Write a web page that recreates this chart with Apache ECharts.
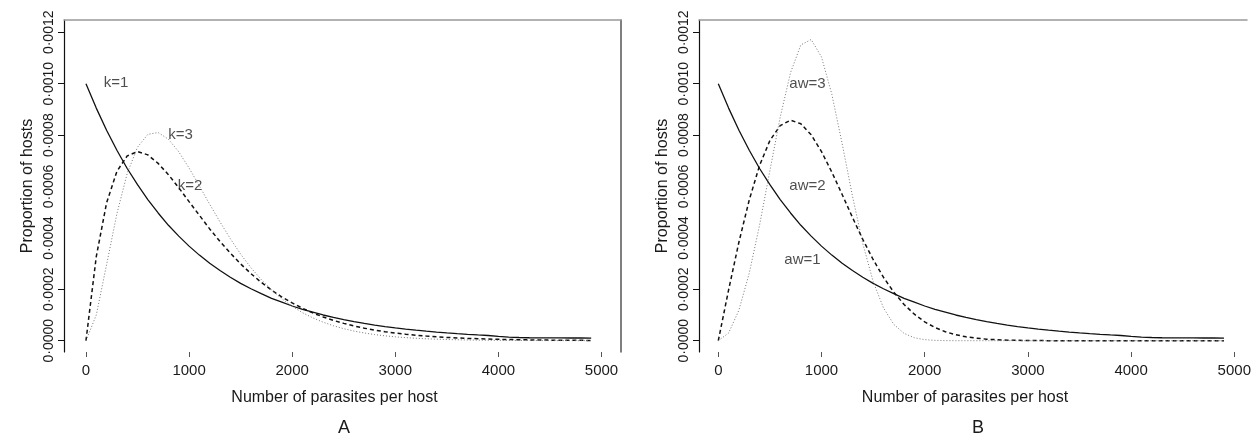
<!DOCTYPE html>
<html><head><meta charset="utf-8">
<script src="https://cdn.jsdelivr.net/npm/echarts@6/dist/echarts.min.js"></script>
<style>html,body{margin:0;padding:0;background:#fff}#c{width:1256px;height:436px}</style>
</head><body><div id="c"></div>
<script>
// ---- data ----
const parasites = [0,100,200,300,400,500,600,700,800,900,
  1000,1100,1200,1300,1400,1500,1600,1700,1800,1900,
  2000,2100,2200,2300,2400,2500,2600,2700,2800,2900,
  3000,3100,3200,3300,3400,3500,3600,3700,3800,3900,
  4000,4100,4200,4300,4400,4500,4600,4700,4800,4900];

const k1 = [0.001000,0.000905,0.000819,0.000741,0.000670,0.000607,0.000549,0.000497,0.000449,0.000407,
  0.000368,0.000333,0.000301,0.000273,0.000247,0.000223,0.000202,0.000183,0.000165,0.000150,
  0.000135,0.000122,0.000111,0.000100,0.0000907,0.0000821,0.0000743,0.0000672,0.0000608,0.0000550,
  0.0000498,0.0000450,0.0000408,0.0000369,0.0000334,0.0000302,0.0000273,0.0000247,0.0000224,0.0000202,
  0.0000170,0.0000140,0.0000125,0.0000115,0.0000110,0.0000108,0.0000106,0.0000105,0.0000104,0.0000103];

const k2 = [0,0.000327,0.000536,0.000659,0.000719,0.000736,0.000723,0.000690,0.000646,0.000595,
  0.000541,0.000488,0.000435,0.000386,0.000341,0.000299,0.000261,0.000227,0.000197,0.000170,
  0.000147,0.000126,0.000108,0.0000925,0.0000790,0.0000674,0.0000574,0.0000488,0.0000414,0.0000351,
  0.0000297,0.0000252,0.0000213,0.0000180,0.0000152,0.0000128,0.0000108,0.0000090,0.0000076,0.0000064,
  0.0000054,0.0000045,0.0000038,0.0000032,0.0000027,0.0000022,0.0000019,0.0000016,0.0000013,0.0000011];

const k3 = [0,0.000100,0.000296,0.000494,0.000651,0.000753,0.000803,0.000810,0.000784,0.000735,
  0.000672,0.000602,0.000531,0.000462,0.000397,0.000337,0.000284,0.000238,0.000198,0.000163,
  0.000134,0.000109,0.0000889,0.0000720,0.0000581,0.0000467,0.0000374,0.0000299,0.0000238,0.0000189,
  0.0000150,0.0000119,0.0000094,0.0000074,0.0000058,0.0000045,0.0000036,0.0000028,0.0000022,0.0000017,
  0.0000013,0.0000010,0.0000008,0.0000006,0.0000005,0.0000004,0.0000003,0.0000002,0.0000002,0.0000001];

const aw1 = [0.001000,0.000905,0.000819,0.000741,0.000670,0.000607,0.000549,0.000497,0.000449,0.000407,
  0.000368,0.000333,0.000301,0.000273,0.000247,0.000223,0.000202,0.000183,0.000165,0.000150,
  0.000135,0.000122,0.000111,0.000100,0.0000907,0.0000821,0.0000743,0.0000672,0.0000608,0.0000550,
  0.0000498,0.0000450,0.0000408,0.0000369,0.0000334,0.0000302,0.0000273,0.0000247,0.0000224,0.0000202,
  0.0000170,0.0000140,0.0000125,0.0000115,0.0000110,0.0000108,0.0000106,0.0000105,0.0000104,0.0000103];

const aw2 = [0,0.000198,0.000384,0.000548,0.000682,0.000779,0.000837,0.000858,0.000844,0.000801,
  0.000736,0.000656,0.000569,0.000480,0.000394,0.000316,0.000247,0.000189,0.000141,0.000103,
  0.0000733,0.0000511,0.0000348,0.0000232,0.0000151,0.0000097,0.0000060,0.0000037,0.0000022,0.0000013,
  0.0000007,0.0000004,0.0000002,0.0000001,0,0,0,0,0,0,
  0,0,0,0,0,0,0,0,0,0];

const aw3 = [0,0.0000300,0.000119,0.000263,0.000450,0.000662,0.000870,0.001043,0.001151,0.001172,
  0.001104,0.000959,0.000767,0.000563,0.000378,0.000231,0.000128,0.0000637,0.0000285,0.0000114,
  0.0000040,0.0000013,0.0000003,0,0,0,0,0,0,0,
  0,0,0,0,0,0,0,0,0,0,
  0,0,0,0,0,0,0,0,0,0];

const xTicks = [0,1000,2000,3000,4000,5000];
const yTicks = [0,0.0002,0.0004,0.0006,0.0008,0.0010,0.0012];
const yTickMarks = [0,0.0002,0.0008,0.0010,0.0012];

const labelNamesA = ['k=1','k=3','k=2'];
const labelXA = [291,917,1009];
const labelYA = [0.001003,0.000800,0.000602];
const labelNamesB = ['aw=3','aw=2','aw=1'];
const labelXB = [864,864,816];
const labelYB = [0.000999,0.000602,0.000314];

const panelLetters = ['A','B'];
const xTitle = 'Number of parasites per host';
const yTitle = 'Proportion of hosts';

// ---- chart ----
const FONT = "'Liberation Sans', Arial, Helvetica, sans-serif";
const TXT = '#1a1a1a';
const Y_MIN = -0.000044, Y_MAX = 0.0012479;

function bottomX(gi, min, max){
  return {type:'value', gridIndex:gi, min:min, max:max, position:'bottom',
    axisLine:{show:false, onZero:false},
    axisTick:{show:true, customValues:xTicks, length:5, lineStyle:{color:'#555', width:1}},
    axisLabel:{show:true, customValues:xTicks, margin:11, fontSize:15, color:TXT, fontFamily:FONT,
      formatter:function(v){return String(v);}},
    splitLine:{show:false},
    name:xTitle, nameLocation:'middle', nameGap:38,
    nameTextStyle:{fontSize:16, color:TXT, fontFamily:FONT, padding:[0,16,0,0]}};
}
function topX(gi, min, max){
  return {type:'value', gridIndex:gi, min:min, max:max, position:'top',
    axisLine:{show:true, onZero:false, lineStyle:{color:'#999', width:1.5}},
    axisTick:{show:false}, axisLabel:{show:false}, splitLine:{show:false}};
}
function leftY(gi){
  return {type:'value', gridIndex:gi, min:Y_MIN, max:Y_MAX, position:'left',
    axisLine:{show:true, onZero:false, lineStyle:{color:'#111', width:1.2}},
    axisTick:{show:true, customValues:yTickMarks, length:6, lineStyle:{color:'#111', width:1}},
    axisLabel:{show:true, customValues:yTicks, rotate:90, margin:8, fontSize:14, color:TXT, fontFamily:FONT,
      formatter:function(v){return v.toFixed(4).replace('.','\u00b7');}},
    splitLine:{show:false},
    name:yTitle, nameLocation:'middle', nameRotate:90, nameGap:28,
    nameTextStyle:{fontSize:16, color:TXT, fontFamily:FONT}};
}
function rightY(gi){
  return {type:'value', gridIndex:gi, min:Y_MIN, max:Y_MAX, position:'right',
    axisLine:{show:true, onZero:false, lineStyle:{color:'#555', width:1.5}},
    axisTick:{show:false}, axisLabel:{show:false}, splitLine:{show:false}};
}
function pairs(xs, ys){ return xs.map(function(x,i){return [x, ys[i]];}); }
function curve(name, xi, yi, ys, style){
  return {type:'line', name:name, xAxisIndex:xi, yAxisIndex:yi, data:pairs(parasites, ys),
    showSymbol:false, symbol:'none', smooth:false, silent:true, lineStyle:style};
}
function labelSeries(xi, yi, names, xs, ys){
  return {type:'scatter', xAxisIndex:xi, yAxisIndex:yi, symbolSize:1, silent:true,
    itemStyle:{color:'rgba(0,0,0,0)'},
    label:{show:true, position:'inside', formatter:'{b}', fontSize:15, color:'#222', fontFamily:FONT},
    data:names.map(function(n,i){return {name:n, value:[xs[i], ys[i]]};})};
}

const SOLID = {color:'#111', width:1.3, type:'solid'};
const DASH = {color:'#111', width:1.5, type:[4,3]};
const DOT = {color:'#777', width:1, type:[1,2]};

const option = {
  animation:false,
  backgroundColor:'#fff',
  textStyle:{fontFamily:FONT},
  grid:[
    {left:64, top:20, width:557, height:332, containLabel:false},
    {left:699, top:20, width:548, height:332, containLabel:false}
  ],
  xAxis:[bottomX(0,-213,5189), topX(0,-213,5189), bottomX(1,-187,5123), topX(1,-187,5123)],
  yAxis:[leftY(0), rightY(0), leftY(1)],
  series:[
    curve('k=1',0,0,k1,SOLID),
    curve('k=2',0,0,k2,DASH),
    curve('k=3',0,0,k3,DOT),
    labelSeries(0,0,labelNamesA,labelXA,labelYA),
    curve('aw=1',2,2,aw1,SOLID),
    curve('aw=2',2,2,aw2,DASH),
    curve('aw=3',2,2,aw3,DOT),
    labelSeries(2,2,labelNamesB,labelXB,labelYB)
  ],
  graphic:[
    {type:'text', x:344, y:428, silent:true, style:{text:panelLetters[0], fontSize:18, fontFamily:FONT, fill:TXT, align:'center', verticalAlign:'middle'}},
    {type:'text', x:978, y:428, silent:true, style:{text:panelLetters[1], fontSize:18, fontFamily:FONT, fill:TXT, align:'center', verticalAlign:'middle'}}
  ]
};
const chart = echarts.init(document.getElementById('c'), null, {renderer:'canvas'});
chart.setOption(option);
</script>
</body></html>
